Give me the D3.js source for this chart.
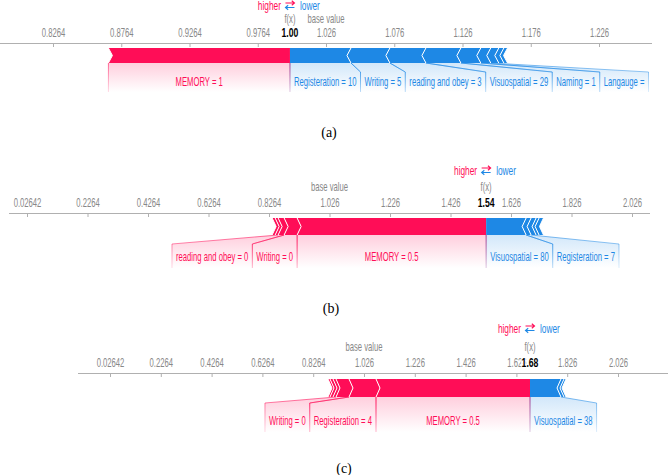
<!DOCTYPE html>
<html>
<head>
<meta charset="utf-8">
<script src="https://cdn.jsdelivr.net/npm/d3@7"></script>
<style>
  body { margin: 0; background: #fff; }
  svg { display: block; font-family: "Liberation Sans", Arial, sans-serif; }
</style>
</head>
<body>
<svg id="chart" width="668" height="475"></svg>
<script>
// shared expected value of the model
const baseValue = 1.02642;

// (a) - positives listed outward (leftwards) from f(x), negatives outward (rightwards)
const labelsA = ['MEMORY = 1', 'Registeration = 10', 'Writing = 5', 'reading and obey = 3', 'Visuospatial = 29', 'Naming = 1', 'Langauge =', null, null, null];
const effectsA = [0.1330, -0.0447, -0.0285, -0.0264, -0.0256, -0.0146, -0.0073, -0.0059, -0.0037, -0.0027];
const ticksA = [0.82642, 0.87642, 0.92642, 0.97642, 1.02642, 1.07642, 1.12642, 1.17642, 1.22642];

// (b)
const labelsB = ['MEMORY = 0.5', 'Writing = 0', 'reading and obey = 0', null, null, 'Visuospatial = 80', 'Registeration = 7', null, null, null];
const effectsB = [0.6248, 0.0430, 0.0198, 0.0099, 0.0099, -0.1322, -0.0165, -0.0165, -0.0099, -0.0145];
const ticksB = [0.02642, 0.22642, 0.42642, 0.62642, 0.82642, 1.02642, 1.22642, 1.42642, 1.62642, 1.82642, 2.02642];

// (c)
const labelsC = ['MEMORY = 0.5', 'Registeration = 4', 'Writing = 0', null, null, null, 'Visuospatial = 38', null, null];
const effectsC = [0.6063, 0.1063, 0.0512, 0.0118, 0.0118, 0.0079, -0.1220, -0.0118, -0.0079];
const ticksC = [0.02642, 0.22642, 0.42642, 0.62642, 0.82642, 1.02642, 1.22642, 1.42642, 1.62642, 1.82642, 2.02642];

const colors = {pos: '#ff0d57', neg: '#1e88e5'};
const SX = 0.64; // the source image is squeezed horizontally
const PAD = 8;

const svg = d3.select('#chart');
const defs = svg.append('defs');
['pos', 'neg'].forEach(k => {
    let g = defs.append('linearGradient')
        .attr('id', 'back-' + k)
        .attr('x1', 0).attr('y1', 0).attr('x2', 0).attr('y2', 1);
    g.append('stop').attr('offset', '0%').attr('stop-color', colors[k]).attr('stop-opacity', 0.2);
    g.append('stop').attr('offset', '100%').attr('stop-color', colors[k]).attr('stop-opacity', 0);
});

class ForcePlot {

    constructor(_config, _data) {
        this.config = _config;
        this.data = _data;
        this.initVis();
    }

    initVis() {
        let vis = this;
        let c = vis.config;

        vis.x = d3.scaleLinear()
            .domain(d3.extent(vis.data.ticks))
            .range(c.tickRange);

        // fading strokes for the label dividers of this panel
        vis.key = c.caption.replace(/\W/g, '');
        ['pos', 'neg'].forEach(k => {
            let g = defs.append('linearGradient')
                .attr('id', `line-${k}-${vis.key}`)
                .attr('gradientUnits', 'userSpaceOnUse')
                .attr('x1', 0).attr('x2', 0)
                .attr('y1', c.barTop + c.barH).attr('y2', c.backBottom);
            g.append('stop').attr('offset', '0%').attr('stop-color', colors[k]).attr('stop-opacity', 0.6);
            g.append('stop').attr('offset', '100%').attr('stop-color', colors[k]).attr('stop-opacity', 0.15);
        });

        vis.g = svg.append('g');
        vis.backGroup = vis.g.append('g');
        vis.lineGroup = vis.g.append('g');
        vis.barGroup = vis.g.append('g');
        vis.textGroup = vis.g.append('g');

        vis.g.append('line')
            .attr('x1', c.lineX[0]).attr('x2', c.lineX[1])
            .attr('y1', c.axisY + 0.5).attr('y2', c.axisY + 0.5)
            .attr('stroke', '#b0b0b0');

        vis.axis = d3.axisBottom(vis.x)
            .tickValues(vis.data.ticks)
            .tickFormat(d3.format('.4'))
            .tickSizeInner(4)
            .tickSizeOuter(0);

        vis.axisGroup = vis.g.append('g')
            .attr('transform', `translate(0,${c.axisY})`);
    }

    updateVis() {
        let vis = this;
        let d = vis.data;

        vis.fx = baseValue + d3.sum(d.effects);
        let lo = vis.fx, hi = vis.fx;
        vis.pos = [];
        vis.neg = [];
        d.effects.forEach((e, i) => {
            if (e > 0) {
                vis.pos.push({label: d.labels[i], a: lo - e, b: lo, first: vis.pos.length === 0});
                lo -= e;
            } else {
                vis.neg.push({label: d.labels[i], a: hi, b: hi - e, first: vis.neg.length === 0});
                hi -= e;
            }
        });

        vis.renderVis();
    }

    renderVis() {
        let vis = this;
        let c = vis.config;
        let x = vis.x;
        let top = c.barTop, bot = c.barTop + c.barH, mid = (top + bot) / 2;
        let fxX = x(vis.fx);

        // axis
        vis.axisGroup.call(vis.axis)
            .attr('font-family', null)
            .attr('font-size', 12);
        vis.axisGroup.select('.domain').remove();
        vis.axisGroup.selectAll('.tick line').attr('stroke', '#b0b0b0');
        vis.axisGroup.selectAll('.tick text')
            .attr('y', c.tickLabelY - c.axisY)
            .attr('dy', null)
            .attr('fill', '#888')
            .attr('transform', `scale(${SX},1)`);

        // bar blocks
        let shape = (s, sign) => {
            let x0 = x(s.a), x1 = x(s.b);
            let sh = sign > 0 ? 4 : -4;
            let shStart = sign < 0 && s.first ? 0 : sh;
            let shEnd = sign > 0 && s.first ? 0 : sh;
            return [[x0, top], [x1, top], [x1 + shEnd, mid], [x1, bot], [x0, bot], [x0 + shStart, mid]];
        };
        [['pos', 1], ['neg', -1]].forEach(([k, sign]) => {
            vis.barGroup.selectAll('.bar-' + k)
                .data(vis[k])
                .enter()
                .append('polygon')
                .attr('class', 'bar-' + k)
                .attr('points', s => shape(s, sign).join(' '))
                .attr('fill', colors[k]);
        });
        // white chevrons between blocks
        vis.barGroup.selectAll('.sep-pos')
            .data(vis.pos)
            .enter()
            .append('polyline')
            .attr('points', s => [[x(s.a), top], [x(s.a) + 4, mid], [x(s.a), bot]].join(' '))
            .attr('fill', 'none').attr('stroke', '#fff').attr('stroke-width', 1);
        vis.barGroup.selectAll('.sep-neg')
            .data(vis.neg)
            .enter()
            .append('polyline')
            .attr('points', s => [[x(s.b), top], [x(s.b) - 4, mid], [x(s.b), bot]].join(' '))
            .attr('fill', 'none').attr('stroke', '#fff').attr('stroke-width', 1);

        // labels: measure, then place boxes outward from f(x)
        let place = (list, k) => {
            let edge = fxX;
            list.filter(s => s.label).forEach(s => {
                let t = vis.textGroup.append('text')
                    .attr('text-anchor', 'middle')
                    .attr('font-size', 12)
                    .attr('fill', colors[k])
                    .text(s.label);
                let segW = Math.abs(x(s.b) - x(s.a));
                let w = Math.max(t.node().getComputedTextLength() * SX, segW - PAD) + PAD;
                let cx = (x(s.a) + x(s.b)) / 2;
                if (k === 'pos') {
                    s.br = Math.min(edge, cx + w / 2);
                    s.bl = s.br - w;
                    edge = s.bl;
                } else {
                    s.bl = Math.max(edge, cx - w / 2);
                    s.br = s.bl + w;
                    edge = s.br;
                }
                t.attr('transform', `translate(${(s.bl + s.br) / 2},${c.textY}) scale(${SX},1)`);

                vis.backGroup.append('polygon')
                    .attr('points', [[x(s.a), bot], [x(s.b), bot], [s.br, c.slantY], [s.br, c.backBottom],
                        [s.bl, c.backBottom], [s.bl, c.slantY]].join(' '))
                    .attr('fill', `url(#back-${k})`);

                [[x(s.a), s.bl], [x(s.b), s.br]].forEach(([from, to]) => {
                    vis.lineGroup.append('polyline')
                        .attr('points', [[from, bot], [to, c.slantY], [to, c.backBottom]].join(' '))
                        .attr('fill', 'none')
                        .attr('stroke', `url(#line-${k}-${vis.key})`)
                        .attr('stroke-width', 1);
                });
            });
        };
        place(vis.neg, 'neg');
        place(vis.pos, 'pos');

        // header texts
        let squeeze = (sel, px, py) => sel.attr('transform', `translate(${px},${py}) scale(${SX},1)`);
        squeeze(vis.g.append('text').attr('text-anchor', 'end').attr('font-size', 13)
            .attr('fill', colors.pos).text('higher'), fxX - 9, c.higherY);
        squeeze(vis.g.append('text').attr('text-anchor', 'start').attr('font-size', 13)
            .attr('fill', colors.neg).text('lower'), fxX + 10, c.higherY);
        // the little swap arrows between "higher" and "lower"
        let yr = c.higherY - 7, yb = c.higherY - 2.5;
        vis.g.append('path')
            .attr('d', `M${fxX - 4.5},${yr}H${fxX + 4.5}M${fxX + 1.8},${yr - 2.2}L${fxX + 4.5},${yr}L${fxX + 1.8},${yr + 2.2}`)
            .attr('fill', 'none').attr('stroke', colors.pos).attr('stroke-width', 1.1);
        vis.g.append('path')
            .attr('d', `M${fxX + 4.5},${yb}H${fxX - 4.5}M${fxX - 1.8},${yb - 2.2}L${fxX - 4.5},${yb}L${fxX - 1.8},${yb + 2.2}`)
            .attr('fill', 'none').attr('stroke', colors.neg).attr('stroke-width', 1.1);
        squeeze(vis.g.append('text').attr('text-anchor', 'middle').attr('font-size', 12)
            .attr('fill', '#888').text('f(x)'), fxX, c.fxLabelY);
        squeeze(vis.g.append('text').attr('text-anchor', 'middle').attr('font-size', 12)
            .attr('fill', '#888').text('base value'), x(baseValue), c.fxLabelY);
        squeeze(vis.g.append('text').attr('text-anchor', 'middle').attr('font-size', 13.5)
            .attr('font-weight', 'bold').attr('fill', '#000')
            .attr('stroke', '#fff').attr('stroke-width', 3).attr('paint-order', 'stroke')
            .text(d3.format('.2f')(vis.fx)), fxX, c.tickLabelY);

        vis.g.append('text')
            .attr('x', c.captionX).attr('y', c.captionY)
            .attr('text-anchor', 'middle')
            .attr('font-family', '"Liberation Serif", "Times New Roman", serif')
            .attr('font-size', 14)
            .attr('fill', '#000')
            .text(c.caption);
    }
}

const plots = [
    new ForcePlot({axisY: 43, lineX: [0, 652], tickRange: [53, 599], barTop: 48, barH: 15, slantY: 72,
        textY: 86, backBottom: 92, higherY: 10, fxLabelY: 23, tickLabelY: 37,
        caption: '(a)', captionX: 329, captionY: 137},
        {labels: labelsA, effects: effectsA, ticks: ticksA}),
    new ForcePlot({axisY: 213, lineX: [9, 650], tickRange: [27, 632], barTop: 218, barH: 17, slantY: 244,
        textY: 261, backBottom: 268, higherY: 175, fxLabelY: 191, tickLabelY: 207,
        caption: '(b)', captionX: 331, captionY: 313},
        {labels: labelsB, effects: effectsB, ticks: ticksB}),
    new ForcePlot({axisY: 373, lineX: [78, 668], tickRange: [110, 618], barTop: 379, barH: 18, slantY: 403,
        textY: 425, backBottom: 432, higherY: 333, fxLabelY: 351, tickLabelY: 367,
        caption: '(c)', captionX: 344, captionY: 473},
        {labels: labelsC, effects: effectsC, ticks: ticksC})
];
plots.forEach(p => p.updateVis());
</script>
</body>
</html>
